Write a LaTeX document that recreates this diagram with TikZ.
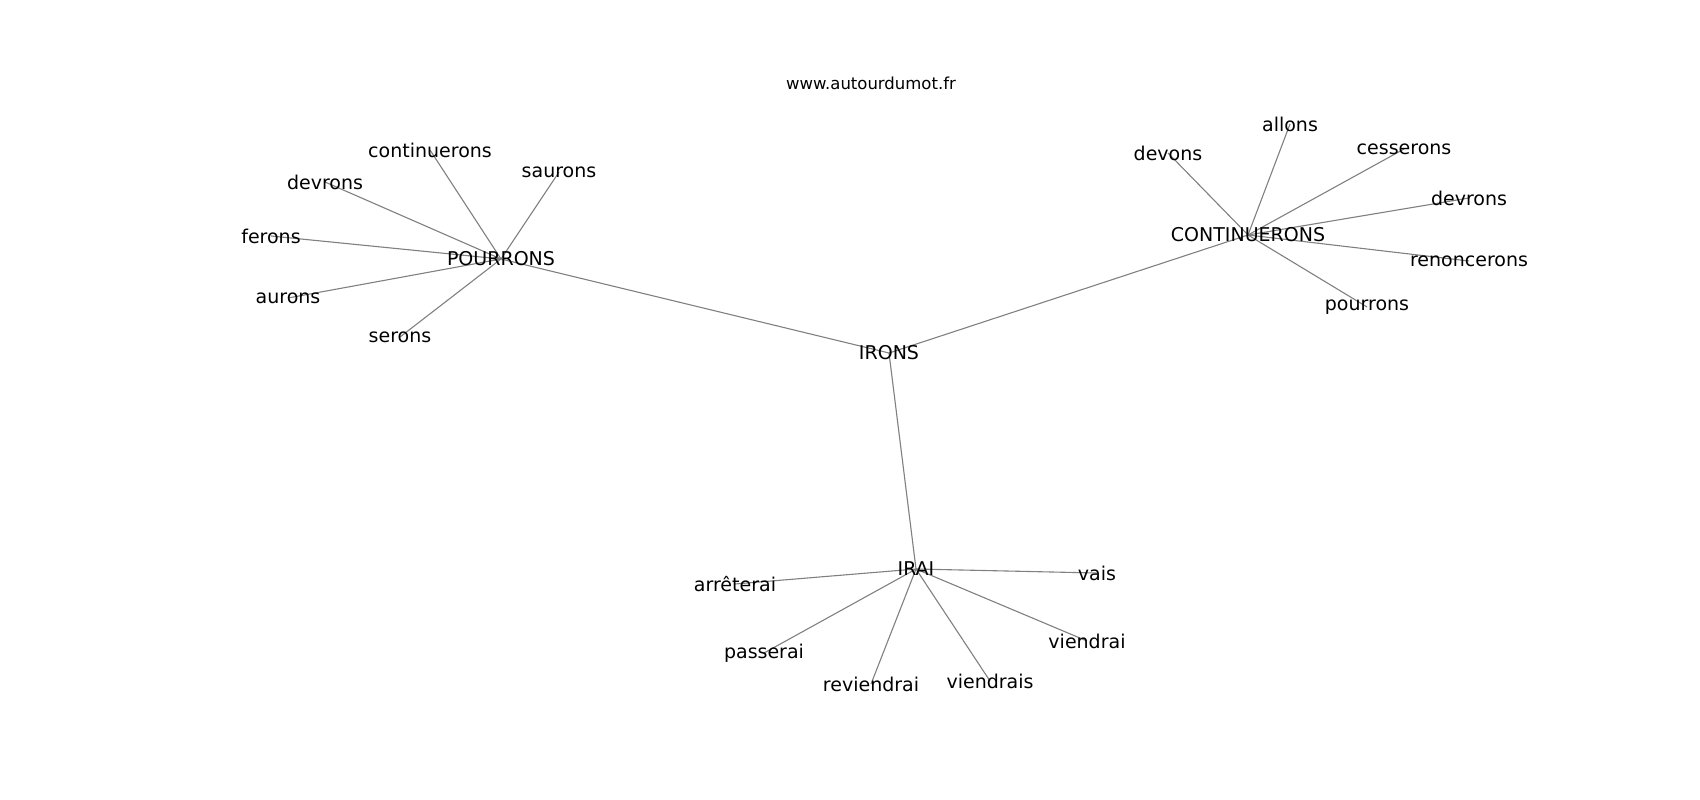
\documentclass[tikz,border=0pt]{standalone}
\usepackage{fontspec}
\setmainfont{DejaVu Sans}
\usetikzlibrary{backgrounds}
\definecolor{edgegray}{RGB}{128,128,128}
\tikzset{
  lbl/.style={inner sep=0pt, font=\fontsize{19}{22}\selectfont, text=black},
  ttl/.style={inner sep=0pt, font=\fontsize{16.5}{20}\selectfont, text=black},
  edge/.style={draw=edgegray, line width=1.1pt}
}
\begin{document}
\begin{tikzpicture}[x=1pt,y=-1pt]
\useasboundingbox (0,0) rectangle (1700,800);
\node[ttl] (title) at (871,83) {www.autourdumot.fr};
% hubs
\node[lbl] (irons) at (889,353) {IRONS};
\node[lbl] (pourrons) at (501,259) {POURRONS};
\node[lbl] (contin) at (1248,235) {CONTINUERONS};
\node[lbl] (irai) at (916,569) {IRAI};
% POURRONS leaves
\node[lbl] (p1) at (430,150) {continuerons};
\node[lbl] (p2) at (325,182) {devrons};
\node[lbl] (p3) at (271,236) {ferons};
\node[lbl] (p4) at (559,172) {saurons};
\node[lbl] (p5) at (288,298) {aurons};
\node[lbl] (p6) at (400,337) {serons};
% CONTINUERONS leaves
\node[lbl] (c1) at (1168,153) {devons};
\node[lbl] (c2) at (1290,124) {allons};
\node[lbl] (c3) at (1404,149) {cesserons};
\node[lbl] (c4) at (1469,198) {devrons};
\node[lbl] (c5) at (1469,261) {renoncerons};
\node[lbl] (c6) at (1367,307) {pourrons};
% IRAI leaves
\node[lbl] (i1) at (735,584) {arrêterai};
\node[lbl] (i2) at (764,653) {passerai};
\node[lbl] (i3) at (871,684) {reviendrai};
\node[lbl] (i4) at (990,681) {viendrais};
\node[lbl] (i5) at (1087,641) {viendrai};
\node[lbl] (i6) at (1097,573) {vais};
\begin{scope}[on background layer]
\foreach \a/\b in {irons/pourrons, irons/contin, irons/irai,
  pourrons/p1, pourrons/p2, pourrons/p3, pourrons/p4, pourrons/p5, pourrons/p6,
  contin/c1, contin/c2, contin/c3, contin/c4, contin/c5, contin/c6,
  irai/i1, irai/i2, irai/i3, irai/i4, irai/i5, irai/i6}
  \draw[edge] (\a.center) -- (\b.center);
\end{scope}
\end{tikzpicture}
\end{document}
